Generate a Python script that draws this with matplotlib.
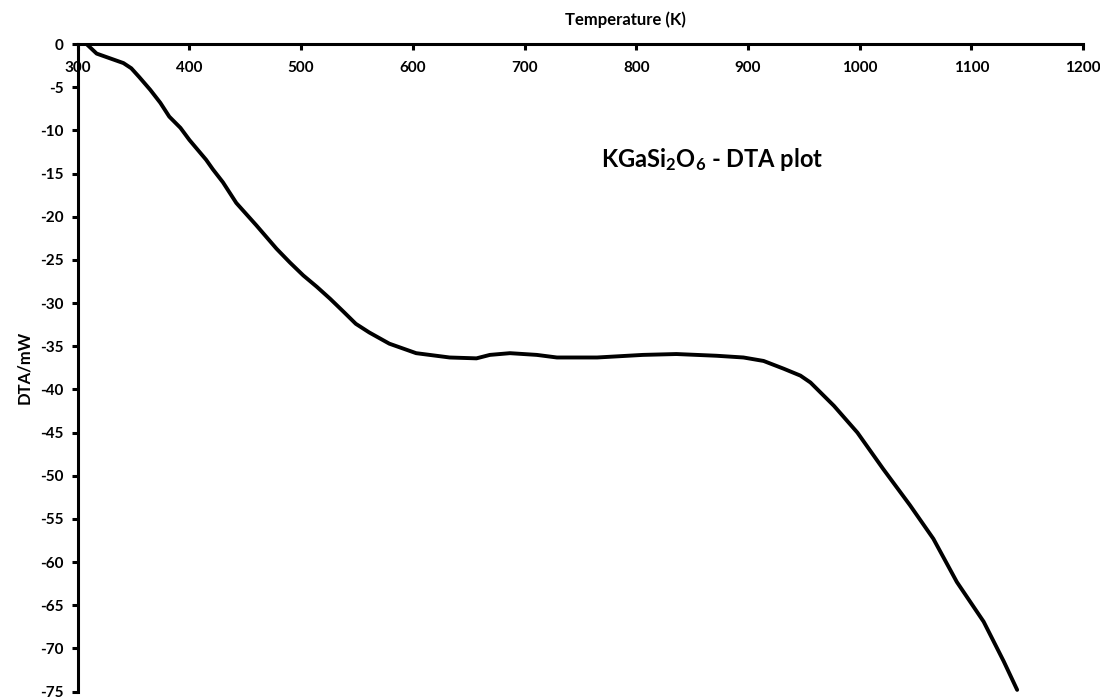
#Name: dta_plot
#
#Purpose: plot the DTA curve of KGaSi2O6 against temperature, axis style like the old excel chart
#
#Outputs: out.png
import matplotlib
matplotlib.use('Agg')
import matplotlib.pyplot as plt

plt.rcParams['font.family'] = ['Lato', 'DejaVu Sans']
plt.rcParams['font.weight'] = 'bold'
plt.rcParams['axes.unicode_minus'] = False
plt.rcParams['mathtext.fontset'] = 'custom'
plt.rcParams['mathtext.rm'] = 'Lato:bold'
plt.rcParams['mathtext.default'] = 'rm'

#temperature (K) and DTA signal (mW)
temp = [308, 317, 329, 341, 348, 355, 365, 374, 382, 392, 400, 415, 421, 430,
        442, 460, 478, 490, 502, 514, 526, 538, 549, 561, 579, 603, 633, 657,
        669, 687, 711, 729, 765, 806, 836, 872, 896, 914, 932, 947, 956, 977,
        998, 1021, 1045, 1066, 1087, 1111, 1129, 1141]
dta = [0.0, -1.1, -1.65, -2.2, -2.8, -3.8, -5.3, -6.8, -8.4, -9.7, -11.1,
       -13.4, -14.5, -16.0, -18.4, -21.0, -23.7, -25.3, -26.8, -28.1, -29.5,
       -31.0, -32.4, -33.4, -34.7, -35.8, -36.3, -36.4, -36.0, -35.8, -36.0,
       -36.3, -36.3, -36.0, -35.9, -36.1, -36.3, -36.7, -37.6, -38.4, -39.2,
       -41.9, -45.0, -49.2, -53.4, -57.3, -62.3, -66.9, -71.5, -74.8]

xticks = list(range(300, 1201, 100))
yticks = list(range(0, -76, -5))

fig = plt.figure(figsize=(11, 7), dpi=100)
ax = fig.add_axes([0.0706, 0.012, 0.914, 0.925])

ax.plot(temp, dta, color='black', lw=2.8, solid_capstyle='round',
        solid_joinstyle='round')

ax.set_xlim(300, 1200)
ax.set_ylim(-75, 0)
ax.set_xticks(xticks)
ax.set_yticks(yticks)

#x axis drawn along the top (y=0) with labels hanging below it
ax.spines['bottom'].set_position(('axes', 1.0))
ax.spines['top'].set_visible(False)
ax.spines['right'].set_visible(False)
for s in ['bottom', 'left']:
    ax.spines[s].set_linewidth(2.2)
ax.tick_params(axis='x', direction='out', length=4, width=2.2, pad=8, labelsize=11)
ax.tick_params(axis='y', direction='out', length=4, width=2.2, pad=6, labelsize=11)

ax.text(0.545, 1.025, 'Temperature (K)', transform=ax.transAxes, ha='center',
        va='bottom', fontsize=12, fontweight='bold')
ax.set_ylabel('DTA/mW', fontsize=12, fontweight='bold', labelpad=6)

ax.text(868, -13.4, 'KGaSi$_2$O$_6$ - DTA plot', ha='center', va='center',
        fontsize=17, fontweight='bold')

plt.savefig('out.png', dpi=100)
